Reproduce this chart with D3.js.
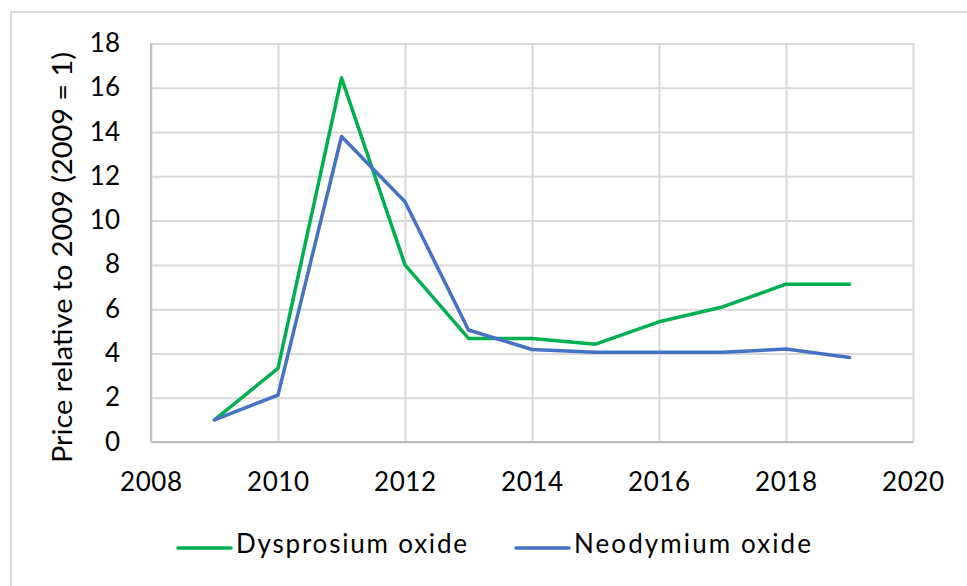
<!DOCTYPE html>
<html>
<head>
<meta charset="utf-8">
<script src="https://cdn.jsdelivr.net/npm/d3@7"></script>
<style>
  body { margin: 0; background: #fff; }
  svg { display: block; font-family: Lato, "Open Sans", sans-serif; }
</style>
</head>
<body>
<div id="chart"></div>
<script>
// data
const years = [2009, 2010, 2011, 2012, 2013, 2014, 2015, 2016, 2017, 2018, 2019];
const dysprosium = [1.0, 3.33, 16.45, 8.0, 4.68, 4.68, 4.42, 5.43, 6.1, 7.13, 7.13];
const neodymium = [1.0, 2.12, 13.8, 10.85, 5.06, 4.18, 4.05, 4.05, 4.05, 4.2, 3.82];
const xTicks = [2008, 2010, 2012, 2014, 2016, 2018, 2020];
const yTicks = [0, 2, 4, 6, 8, 10, 12, 14, 16, 18];
const seriesNames = ["Dysprosium oxide", "Neodymium oxide"];
const seriesColors = ["#00b050", "#4472c4"];

const W = 967, H = 586;
const plotLeft = 151, plotRight = 913, plotTop = 43.5, plotBottom = 442;

const svg = d3.select("#chart").append("svg")
  .attr("width", W)
  .attr("height", H);

// chart border
svg.append("rect")
  .attr("x", 11).attr("y", 12)
  .attr("width", W).attr("height", H)
  .attr("fill", "none")
  .attr("stroke", "#d9d9d9")
  .attr("stroke-width", 2);

const x = d3.scaleLinear().domain([2008, 2020]).range([plotLeft, plotRight]);
const y = d3.scaleLinear().domain([0, 18]).range([plotBottom, plotTop]);

// vertical grid
svg.append("g")
  .attr("transform", "translate(0," + plotBottom + ")")
  .call(d3.axisBottom(x).tickValues(xTicks).tickSize(-(plotBottom - plotTop)).tickFormat(""))
  .call(g => g.select(".domain").remove())
  .selectAll("line")
  .attr("stroke", "#d9d9d9")
  .attr("stroke-width", 2);

// horizontal grid
svg.append("g")
  .attr("transform", "translate(" + plotLeft + ",0)")
  .call(d3.axisLeft(y).tickValues(yTicks).tickSize(-(plotRight - plotLeft)).tickFormat(""))
  .call(g => g.select(".domain").remove())
  .selectAll("line")
  .attr("stroke", "#d9d9d9")
  .attr("stroke-width", 2);

// axis lines
svg.append("line")
  .attr("x1", plotLeft).attr("x2", plotRight)
  .attr("y1", plotBottom).attr("y2", plotBottom)
  .attr("stroke", "#bfbfbf").attr("stroke-width", 2);
svg.append("line")
  .attr("x1", plotLeft).attr("x2", plotLeft)
  .attr("y1", plotTop).attr("y2", plotBottom)
  .attr("stroke", "#bfbfbf").attr("stroke-width", 2);

// tick labels
svg.append("g").selectAll("text")
  .data(xTicks)
  .enter().append("text")
  .attr("x", d => x(d))
  .attr("y", 491)
  .attr("text-anchor", "middle")
  .attr("font-size", 26)
  .attr("textLength", 62)
  .attr("fill", "#000")
  .text(d => d);

svg.append("g").selectAll("text")
  .data(yTicks)
  .enter().append("text")
  .attr("x", 120)
  .attr("y", d => y(d))
  .attr("dy", "0.33em")
  .attr("text-anchor", "end")
  .attr("font-size", 26)
  .attr("fill", "#000")
  .text(d => d);

// y title
svg.append("text")
  .attr("transform", "translate(72,257.5) rotate(-90)")
  .attr("text-anchor", "middle")
  .attr("font-size", 26)
  .attr("textLength", 411)
  .attr("lengthAdjust", "spacingAndGlyphs")
  .attr("fill", "#000")
  .text("Price relative to 2009 (2009 = 1)");

// lines
const line = d3.line()
  .x((d, i) => x(years[i]))
  .y(d => y(d));

[dysprosium, neodymium].forEach((vals, i) => {
  svg.append("path")
    .datum(vals)
    .attr("d", line)
    .attr("fill", "none")
    .attr("stroke", seriesColors[i])
    .attr("stroke-width", 3.5)
    .attr("stroke-linejoin", "round")
    .attr("stroke-linecap", "round");
});

// legend
const legendX = [178, 516];
const legendLen = [231, 237];
const legend = svg.append("g");
seriesNames.forEach((name, i) => {
  legend.append("line")
    .attr("x1", legendX[i]).attr("x2", legendX[i] + 53)
    .attr("y1", 548).attr("y2", 548)
    .attr("stroke", seriesColors[i])
    .attr("stroke-width", 3.5)
    .attr("stroke-linecap", "round");
  legend.append("text")
    .attr("x", legendX[i] + 58)
    .attr("y", 553)
    .attr("font-size", 26)
    .attr("textLength", legendLen[i])
    .attr("fill", "#000")
    .text(name);
});
</script>
</body>
</html>
